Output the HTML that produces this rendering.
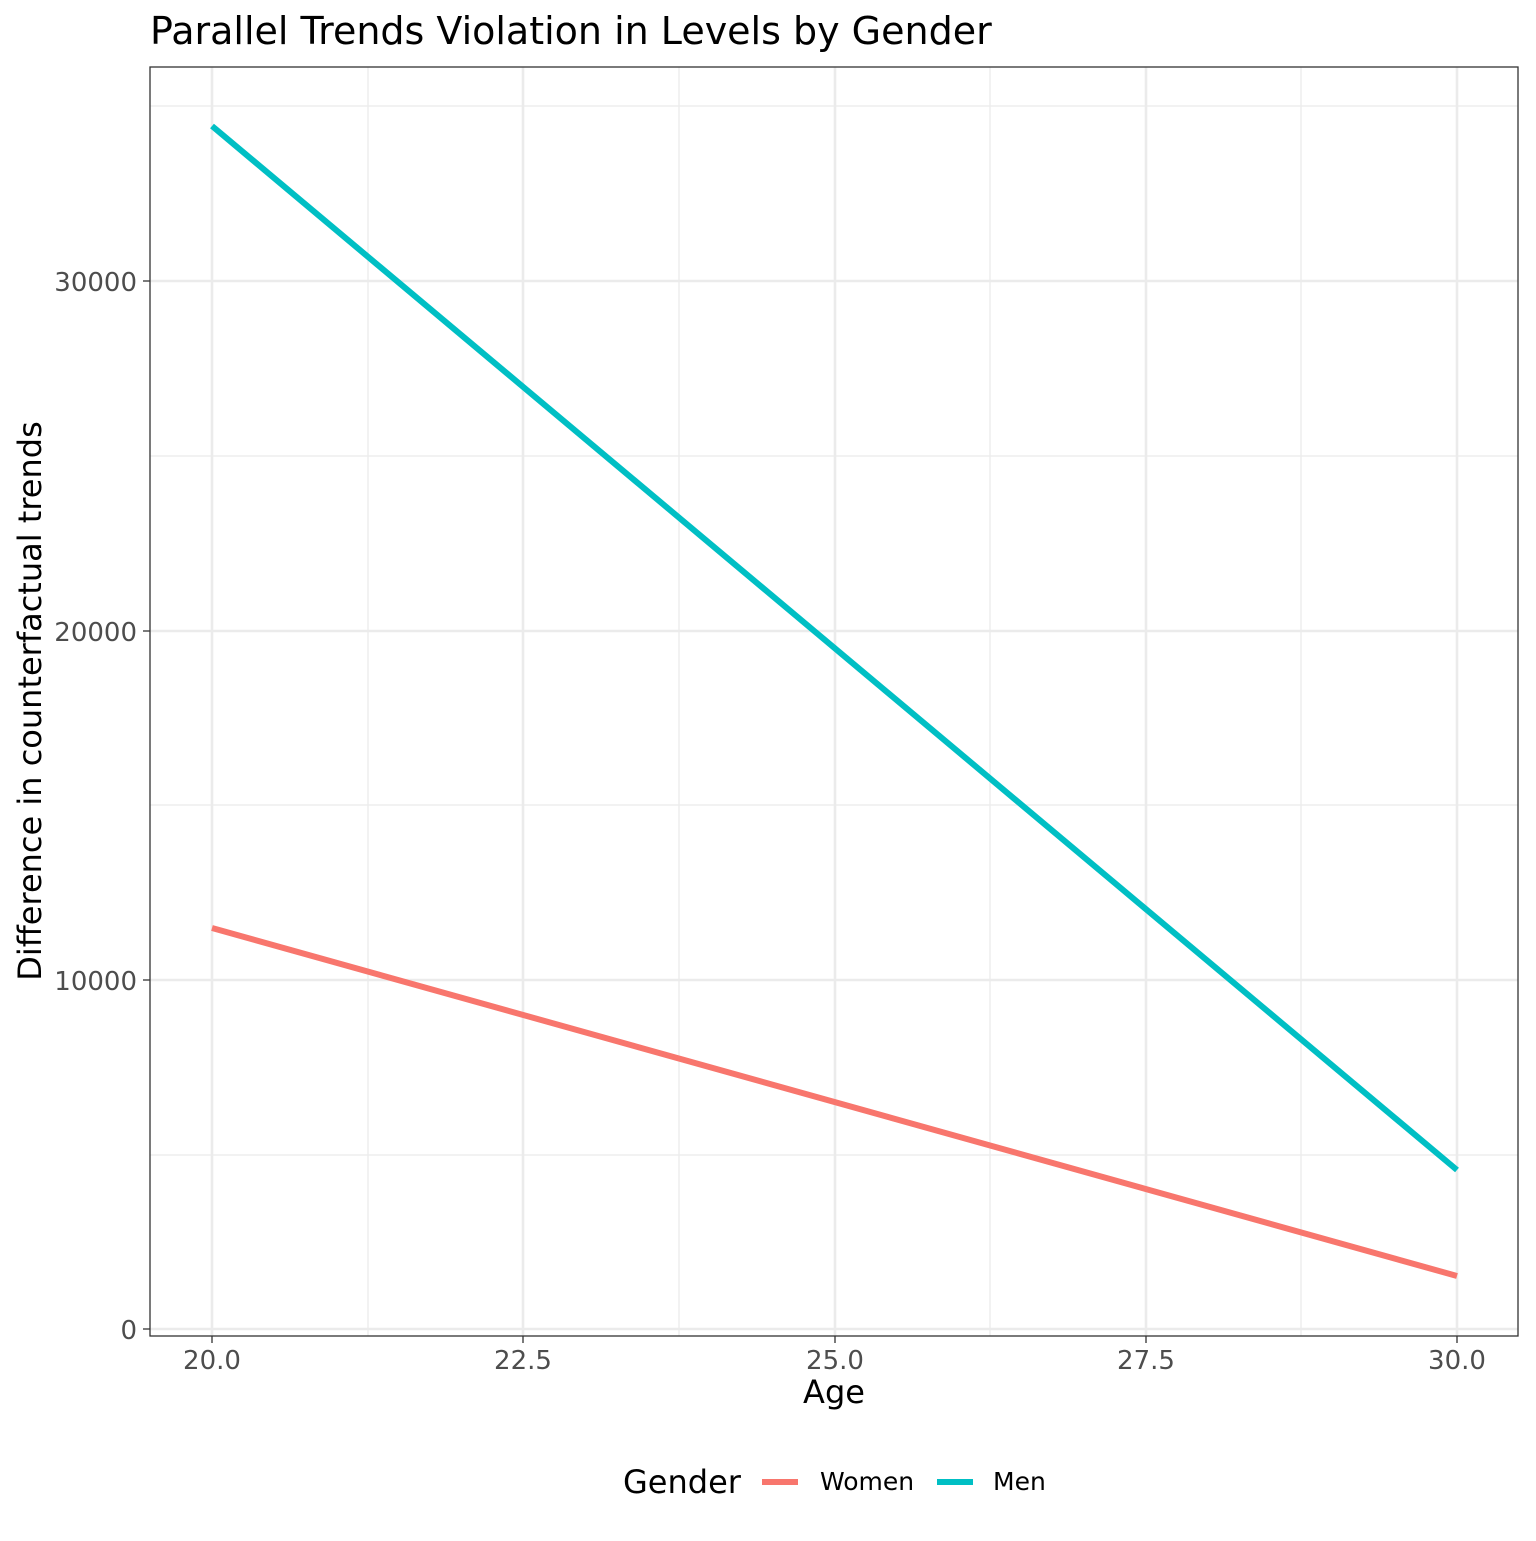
<!DOCTYPE html>
<html><head><style>body{margin:0;background:#fff}</style></head><body>
<svg width="1536" height="1536" xmlns="http://www.w3.org/2000/svg" font-family="DejaVu Sans, Liberation Sans, sans-serif">
<rect width="1536" height="1536" fill="#fff"/>
<text x="150" y="44" font-size="38" fill="#000">Parallel Trends Violation in Levels by Gender</text>
<g stroke="#ebebeb" stroke-width="1.3">
<line x1="368" y1="67" x2="368" y2="1336"/><line x1="679" y1="67" x2="679" y2="1336"/>
<line x1="990" y1="67" x2="990" y2="1336"/><line x1="1301" y1="67" x2="1301" y2="1336"/>
<line x1="150" y1="106" x2="1518" y2="106"/><line x1="150" y1="456" x2="1518" y2="456"/>
<line x1="150" y1="805" x2="1518" y2="805"/><line x1="150" y1="1155" x2="1518" y2="1155"/>
</g>
<g stroke="#ebebeb" stroke-width="2.6">
<line x1="212" y1="67" x2="212" y2="1336"/><line x1="523" y1="67" x2="523" y2="1336"/>
<line x1="835" y1="67" x2="835" y2="1336"/><line x1="1146" y1="67" x2="1146" y2="1336"/>
<line x1="1457" y1="67" x2="1457" y2="1336"/>
<line x1="150" y1="281" x2="1518" y2="281"/><line x1="150" y1="631" x2="1518" y2="631"/>
<line x1="150" y1="980" x2="1518" y2="980"/><line x1="150" y1="1329" x2="1518" y2="1329"/>
</g>
<line x1="212" y1="928" x2="1457" y2="1276" stroke="#F8766D" stroke-width="6"/>
<line x1="212" y1="126" x2="1457" y2="1170" stroke="#00BFC4" stroke-width="6"/>
<rect x="150" y="67" width="1368" height="1269" fill="none" stroke="#333" stroke-width="1.3"/>
<g stroke="#333" stroke-width="1.3">
<line x1="143" y1="281" x2="150" y2="281"/><line x1="143" y1="631" x2="150" y2="631"/>
<line x1="143" y1="980" x2="150" y2="980"/><line x1="143" y1="1329" x2="150" y2="1329"/>
<line x1="212" y1="1336" x2="212" y2="1343"/><line x1="523" y1="1336" x2="523" y2="1343"/>
<line x1="835" y1="1336" x2="835" y2="1343"/><line x1="1146" y1="1336" x2="1146" y2="1343"/>
<line x1="1457" y1="1336" x2="1457" y2="1343"/>
</g>
<g font-size="26" fill="#4d4d4d" text-anchor="end">
<text x="137" y="291">30000</text><text x="137" y="641">20000</text>
<text x="137" y="990">10000</text><text x="137" y="1339">0</text>
</g>
<g font-size="26" fill="#4d4d4d" text-anchor="middle">
<text x="212" y="1369">20.0</text><text x="523" y="1369">22.5</text><text x="835" y="1369">25.0</text>
<text x="1146" y="1369">27.5</text><text x="1457" y="1369">30.0</text>
</g>
<text x="834" y="1403" font-size="32" text-anchor="middle">Age</text>
<text transform="translate(41,701) rotate(-90)" font-size="32" text-anchor="middle">Difference in counterfactual trends</text>
<text x="623" y="1493" font-size="32">Gender</text>
<line x1="762" y1="1482" x2="798" y2="1482" stroke="#F8766D" stroke-width="6"/>
<text x="820" y="1490" font-size="25">Women</text>
<line x1="937" y1="1482" x2="973" y2="1482" stroke="#00BFC4" stroke-width="6"/>
<text x="993" y="1490" font-size="25">Men</text>
</svg>
</body></html>
